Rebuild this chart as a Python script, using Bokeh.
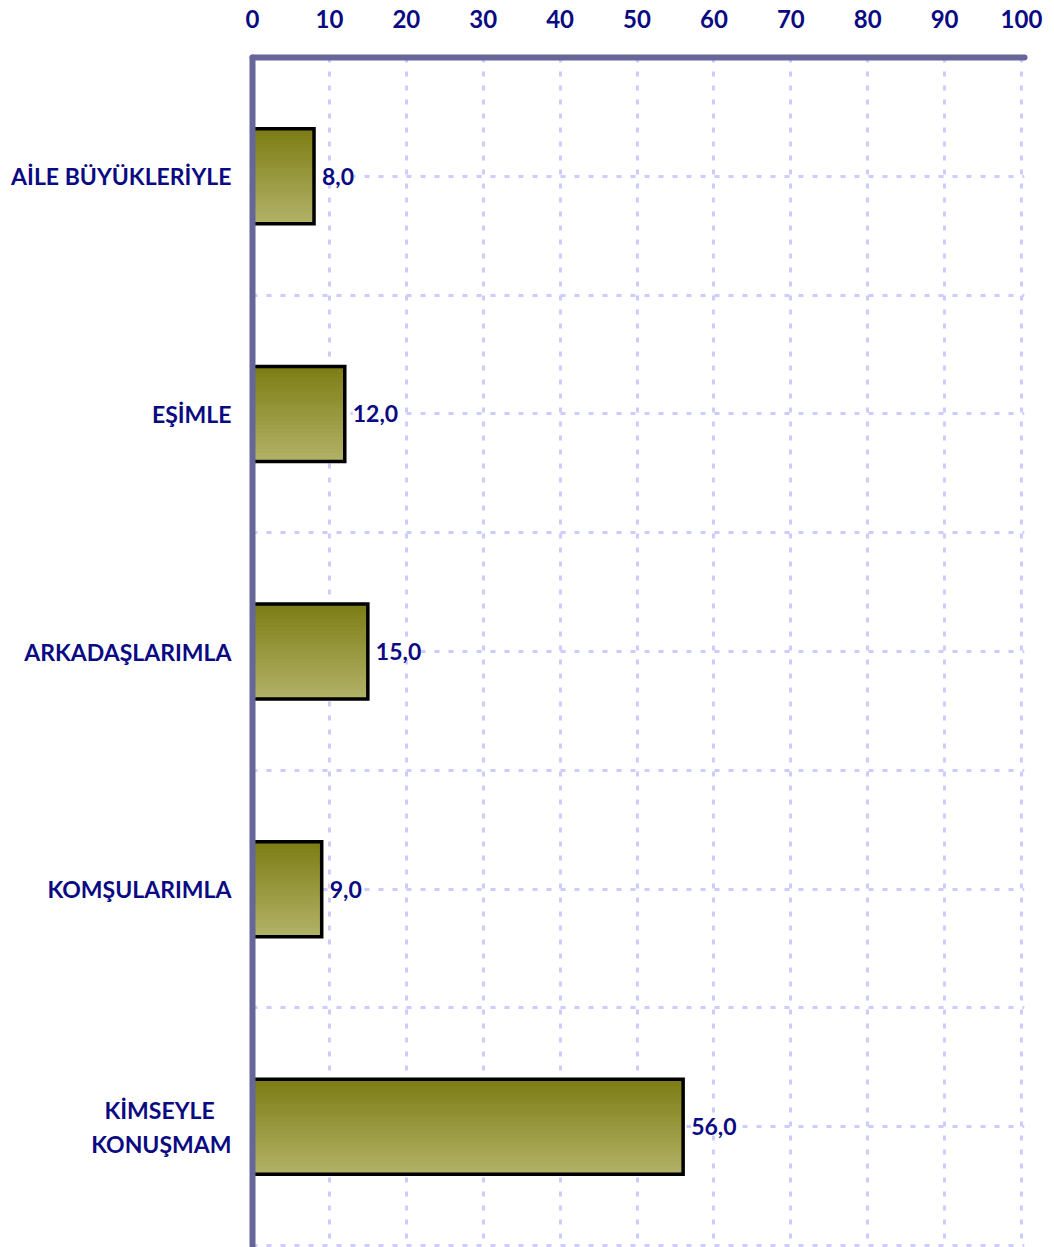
from bokeh.plotting import figure
from bokeh.models import Range1d, FixedTicker, ColumnDataSource, LabelSet
from bokeh.embed import file_html
from bokeh.resources import INLINE
from bokeh.core.properties import value

categories = ["AİLE BÜYÜKLERİYLE", "EŞİMLE", "ARKADAŞLARIMLA", "KOMŞULARIMLA", "KİMSEYLE\nKONUŞMAM"]
values = [8.0, 12.0, 15.0, 9.0, 56.0]
x_ticks = [0, 10, 20, 30, 40, 50, 60, 70, 80, 90, 100]

NAVY = "#0a0a82"
AXIS = "#666699"
GRID = "#ccccff"
FONT = "Lato"

p = figure(frame_width=772, frame_height=1190,
           x_range=Range1d(0, 100.39), y_range=Range1d(5.008, 0),
           x_axis_location="above", output_backend="svg", toolbar_location=None,
           min_border_left=252, min_border_top=57, min_border_right=22, min_border_bottom=0)
p.outline_line_color = None
p.background_fill_color = "white"

# gridlines
p.xgrid.ticker = FixedTicker(ticks=x_ticks[1:])
p.ygrid.ticker = FixedTicker(ticks=[i * 0.5 for i in range(0, 11)])
for g in (p.xgrid, p.ygrid):
    g.grid_line_color = GRID
    g.grid_line_width = 3
    g.grid_line_dash = "5 9"

# bars with vertical gradient (strips)
n_strips = 24
bar_h = 0.4
c0 = (0x7d, 0x7d, 0x16)
c1 = (0xb1, 0xb1, 0x66)
ys, rights, heights, colors = [], [], [], []
for i, v in enumerate(values):
    top = i + 0.5 - bar_h / 2
    for k in range(n_strips):
        t = k / (n_strips - 1)
        col = tuple(int(round(c0[j] + (c1[j] - c0[j]) * t)) for j in range(3))
        ys.append(top + (k + 0.5) * bar_h / n_strips)
        rights.append(v)
        heights.append(bar_h / n_strips)
        colors.append("#%02x%02x%02x" % col)
p.hbar(y=ys, right=rights, left=0, height=heights, fill_color=colors,
       line_color=colors, line_width=1.5)

centers = [i + 0.5 for i in range(len(values))]
p.hbar(y=centers, right=values, left=0, height=bar_h, fill_color=None,
       line_color="black", line_width=3.5, line_join="miter")

# value labels
src = ColumnDataSource(dict(x=values, y=centers, t=[("%.1f" % v).replace(".", ",") for v in values]))
labels = LabelSet(x="x", y="y", text="t", source=src, x_offset=8,
                  text_baseline="middle", text_align="left",
                  text_font=value(FONT), text_font_style="bold", text_font_size="23px",
                  text_color=NAVY, background_fill_color="white")
p.add_layout(labels)

# axes
xa = p.xaxis[0]
xa.ticker = FixedTicker(ticks=x_ticks)
xa.axis_line_color = AXIS
xa.axis_line_width = 6
xa.axis_line_cap = "round"
xa.major_tick_line_color = None
xa.minor_tick_line_color = None
xa.major_tick_out = 0
xa.major_label_standoff = 30
xa.major_label_text_font = FONT
xa.major_label_text_font_style = "bold"
xa.major_label_text_font_size = "24px"
xa.major_label_text_color = NAVY

def centred(lab):
    # pad the shorter line so right-aligned multi-line labels appear centred
    lines = lab.split("\n")
    if len(lines) == 1:
        return lab
    return lines[0] + "\u00a0\u00a0\u00a0\u200b\n" + "\n".join(lines[1:])

ya = p.yaxis[0]
ya.ticker = FixedTicker(ticks=centers)
ya.major_label_overrides = {c: centred(lab) for c, lab in zip(centers, categories)}
ya.axis_line_color = AXIS
ya.axis_line_width = 6
ya.axis_line_cap = "round"
ya.major_tick_line_color = None
ya.minor_tick_line_color = None
ya.major_tick_out = 0
ya.major_label_standoff = 21
ya.major_label_text_font = FONT
ya.major_label_text_font_style = "bold"
ya.major_label_text_font_size = "23px"
ya.major_label_text_color = NAVY

open("out.html", "w").write(file_html(p, INLINE))
